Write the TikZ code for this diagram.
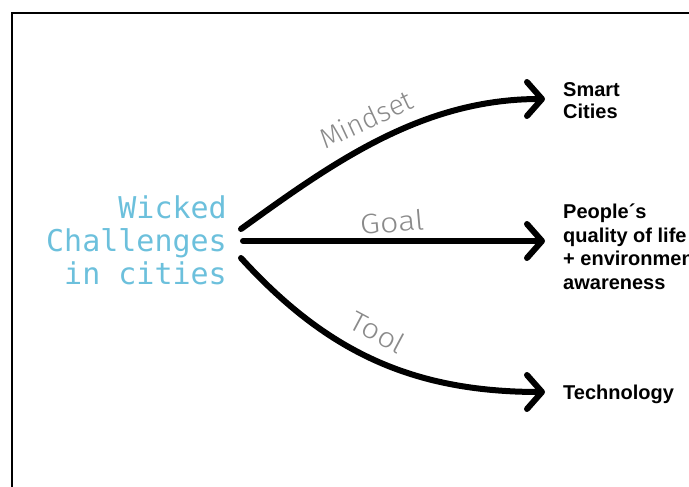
\documentclass[tikz,border=0pt]{standalone}
\usepackage{fontspec}
\usetikzlibrary{arrows.meta}
\newfontfamily\monofam{DejaVu Sans Mono}
\newfontfamily\labfam{Liberation Sans}
\newfontfamily\handfam[UprightFont={* Light}]{Fira Sans}
\definecolor{wickblue}{HTML}{6CC0DC}
\definecolor{handgray}{HTML}{8A8A8A}
\tikzset{
  frameline/.style={line width=2.5pt, black},
  flow/.style={line width=6pt, black, line cap=round,
    -{Straight Barb[length=15pt, width=34pt, round]}},
  wicked/.style={anchor=east, align=right, inner sep=0pt, text=wickblue,
    font=\monofam\fontsize{30}{33}\selectfont},
  target/.style={anchor=base west, align=left, inner sep=0pt,
    font=\labfam\bfseries\fontsize{20}{23}\selectfont},
  handlabel/.style={inner sep=0pt, text=handgray,
    font=\handfam\fontsize{28}{30}\selectfont}
}
\begin{document}
\begin{tikzpicture}[x=1pt,y=1pt]
\useasboundingbox (0,0) rectangle (689,-487);
\draw[frameline] (12,-520) -- (12,-13) -- (720,-13);

\node[wicked] (wc) at (227,-240) {Wicked\\Challenges\\in cities};

\node[target] (sc) at (563,-119) {Smart\\Cities};
\node[target, font=\labfam\bfseries\fontsize{20}{23.5}\selectfont] (pq) at (563,-289) {People´s\\quality of life\\+ environment\\awareness};
\node[target] (tech) at (563,-399) {Technology};

\coordinate (s1) at ([shift={(14,11)}]wc.east);
\coordinate (s2) at ([shift={(16,-1)}]wc.east);
\coordinate (s3) at ([shift={(14,-18)}]wc.east);

\draw[flow] (s1) .. controls (330,-165) and (420,-99) .. ([xshift=-18]sc.west |- 0,-99);
\draw[flow] (s2) -- ([xshift=-18]pq.west |- s2);
\draw[flow] (s3) .. controls (325,-350) and (410,-392) .. ([xshift=-18]tech.base west |- 0,-392);

\node[handlabel, rotate=25] (lm) at (366,-119) {Mindset};
\node[handlabel, rotate=5, xscale=1.15] (lg) at (392,-222) {Goal};
\node[handlabel, rotate=-28, xscale=1.1] (lt) at (378,-332) {Tool};
\end{tikzpicture}
\end{document}
